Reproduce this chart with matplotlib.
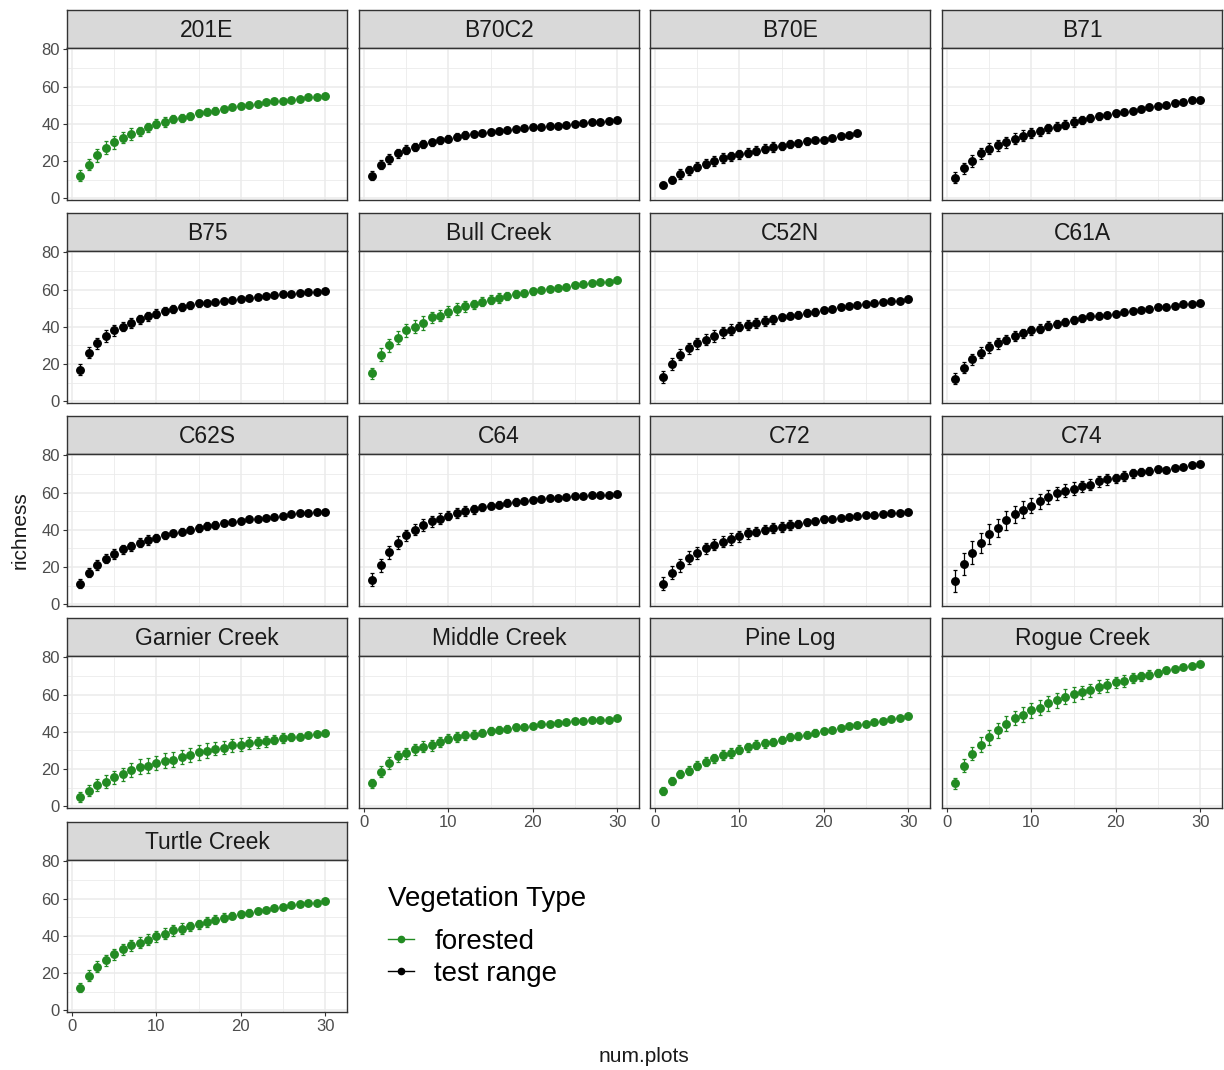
import matplotlib
matplotlib.use("Agg")
import matplotlib.pyplot as plt
from matplotlib.lines import Line2D
import numpy as np

plt.rcParams['font.family'] = ['Liberation Sans', 'DejaVu Sans']

# ---------------- data ----------------
sites = ["201E", "B70C2", "B70E", "B71", "B75", "Bull Creek", "C52N", "C61A",
         "C62S", "C64", "C72", "C74", "Garnier Creek", "Middle Creek", "Pine Log",
         "Rogue Creek", "Turtle Creek"]
veg_type = ["forested", "test range", "test range", "test range", "test range", "forested",
            "test range", "test range", "test range", "test range", "test range", "test range",
            "forested", "forested", "forested", "forested", "forested"]

rich_201E = [12, 18, 23, 27, 30, 32.5, 34.5, 36, 38, 40, 41, 42.5, 43, 44, 45.5, 46.5, 47, 48,
             49, 49.5, 50, 50.5, 51.5, 52, 52, 53, 53.5, 54.5, 54.5, 55]
rich_B70C2 = [12, 18, 21, 24, 26, 27.5, 29, 30, 31, 32, 33, 34, 34.5, 35, 35.5, 36, 36.5, 37,
              37.5, 38, 38.5, 39, 39, 39.5, 40, 40.5, 41, 41, 41.5, 42]
rich_B70E = [7, 10, 13, 15, 17, 18.5, 20, 21.5, 22.5, 23.5, 24.5, 25.5, 26.5, 27.5, 28, 29,
             29.5, 30.5, 31, 31.5, 32.5, 33.5, 34, 35]
rich_B71 = [11, 16, 20, 24, 26.5, 28.5, 30, 32, 33.5, 35, 36, 37.5, 38.5, 39.5, 41, 42, 43, 44,
            44.5, 45.5, 46.5, 47, 48, 49, 49.5, 50, 51, 51.5, 52.5, 53]
rich_B75 = [17, 26, 31, 35, 38, 40, 42, 44, 45.5, 47, 48.5, 49.5, 50.5, 51.5, 52.5, 53, 53.5,
            54, 54.5, 55, 55.5, 56, 56.5, 57, 57.5, 57.5, 58, 58.5, 58.5, 59]
rich_Bull = [15, 25, 30, 34, 38, 40, 42, 45, 46, 48, 49.5, 51, 52, 53.5, 54.5, 55.5, 56.5,
             57.5, 58, 59, 59.5, 60.5, 61, 61.5, 62.5, 63, 63.5, 64, 64, 65]
rich_C52N = [13, 20, 25, 28.5, 31, 33, 35, 37, 38.5, 40, 41, 42, 43, 44, 45, 46, 46.5, 47.5,
             48, 49, 49.5, 50.5, 51, 51.5, 52, 53, 53.5, 54, 54, 55]
rich_C61A = [12, 18, 22.5, 26, 29, 31, 33, 35, 36.5, 38, 39, 40.5, 41.5, 42.5, 43.5, 44.5,
             45.5, 46, 46.5, 47, 48, 48.5, 49, 49.5, 50.5, 50.5, 51, 52, 52, 53]
rich_C62S = [11, 17, 21, 24.5, 27, 29.5, 31, 33, 34.5, 35.5, 37, 38, 39, 40, 41, 42, 42.5,
             43.5, 44, 44.5, 45.5, 46, 46.5, 47, 47.5, 48.5, 49, 49, 49.5, 49.5]
rich_C64 = [13, 21, 28, 33, 37, 40, 42.5, 44.5, 46, 47.5, 49, 50, 51, 52, 53, 53.5, 54.5, 55,
            55.5, 56, 56.5, 57, 57, 57.5, 58, 58, 58.5, 58.5, 58.5, 59]
rich_C72 = [11, 17, 21, 25, 27.5, 30, 32, 33.5, 35, 36.5, 38, 39, 40, 41, 41.5, 42.5, 43, 44,
            44.5, 45.5, 46, 46.5, 47, 47.5, 48, 48, 48.5, 49, 49, 49.5]
rich_C74 = [12.6, 21.4, 27.7, 33, 37.8, 41, 45, 48.3, 50.8, 53, 55.3, 57.6, 59.5, 61, 62,
            63.4, 64.3, 66.1, 67, 67.6, 68.8, 70.3, 71, 71.5, 72.4, 72.3, 73.3, 73.9, 74.6, 75.5]
rich_Garnier = [4.9, 8.2, 11.4, 13, 15.4, 17.2, 19.4, 21.2, 21.7, 23.2, 24.3, 25, 26.4, 27.5,
                29, 29.9, 30.8, 31.5, 32.6, 33, 33.9, 34.4, 34.8, 35.7, 36.6, 37.1, 37.3, 38,
                38.6, 39.5]
rich_Middle = [12.2, 18.5, 23.2, 26.8, 28.4, 30.6, 32, 32.6, 34.4, 36.2, 37.1, 38, 38.4, 39.5,
               40.4, 41.1, 41.6, 42.3, 42.7, 43.3, 44, 44, 44.9, 45.1, 45.8, 45.8, 46.5, 46.5,
               46.5, 47.4]
rich_Pine = [8.1, 13.6, 17.2, 19, 21.7, 23.9, 25.7, 27.5, 28.6, 30.4, 31.7, 33, 33.7, 34.4,
             35.8, 37.1, 37.7, 38.4, 39.5, 40.2, 40.9, 42, 42.9, 43.4, 44.2, 45.3, 45.8, 46.7,
             47.4, 48.2]
rich_Rogue = [12.3, 21.7, 28.1, 33, 37.1, 40.7, 44.4, 47.4, 49.2, 51.6, 52.9, 55.2, 57, 58.9,
              60.1, 61.2, 62.4, 64.3, 65.1, 66.6, 67.3, 68.8, 69.7, 70.6, 71.5, 73, 73.8, 74.6,
              75.5, 76.4]
rich_Turtle = [12, 18.4, 23.3, 26.8, 30, 32.6, 34.9, 36.3, 37.9, 39.7, 41.1, 42.9, 43.8, 45.1,
               46.2, 47.4, 48.7, 49.7, 50.8, 51.5, 52.4, 53.3, 54, 54.7, 55.3, 56.4, 57.1, 57.8,
               57.8, 58.7]

# error half-widths
err_201E = [3, 3, 3.5, 3.5, 3.5, 3, 3, 2.5, 2.5, 2.5, 2.5, 2, 2, 2, 2, 2, 2, 1.5, 1.5, 1.5,
            1.5, 1.5, 1, 1, 1, 1, 1, 0.8, 0.6, 0.3]
err_B70C2 = [2.5, 2.5, 2.5, 2.5, 2.5, 2, 2, 2, 2, 2, 2, 2, 1.8, 1.8, 1.8, 1.5, 1.5, 1.5, 1.5,
             1.2, 1.2, 1.2, 1, 1, 1, 1, 0.8, 0.8, 0.5, 0.3]
err_B70E = [1.5, 2, 2.5, 2.5, 2.5, 2.5, 2.5, 2.5, 2.5, 2.5, 2.5, 2.5, 2.5, 2.5, 2, 2, 2, 2,
            1.5, 1.5, 1, 1, 0.8, 0.3]
err_B71 = [3, 3, 3, 3, 3, 3, 3, 3, 3, 2.5, 2.5, 2.5, 2.5, 2.5, 2.5, 2, 2, 2, 2, 2, 1.5, 1.5,
           1.5, 1.5, 1.2, 1, 1, 0.8, 0.6, 0.3]
err_B75 = [3, 3, 3, 3, 3, 2.5, 2.5, 2.5, 2.5, 2.5, 2, 2, 2, 2, 2, 1.5, 1.5, 1.5, 1.5, 1.5,
           1.2, 1.2, 1.2, 1, 1, 1, 0.8, 0.6, 0.5, 0.3]
err_Bull = [3, 3.5, 3.5, 3.5, 3.5, 3.5, 3.5, 3, 3, 3, 3, 3, 2.5, 2.5, 2.5, 2.5, 2, 2, 2, 2, 1.5,
            1.5, 1.5, 1.5, 1.2, 1, 1, 0.8, 0.6, 0.3]
err_C52N = [3, 3, 3, 3, 3, 3, 3, 3, 3, 2.5, 2.5, 2.5, 2.5, 2.5, 2, 2, 2, 2, 2, 1.5, 1.5, 1.5,
            1.2, 1.2, 1, 1, 1, 0.8, 0.6, 0.3]
err_C61A = [3, 3, 3, 3, 3, 3, 2.5, 2.5, 2.5, 2.5, 2.5, 2.5, 2, 2, 2, 2, 2, 2, 1.5, 1.5, 1.5,
            1.5, 1.2, 1.2, 1, 1, 1, 0.8, 0.6, 0.3]
err_C62S = [2.5, 2.5, 2.5, 2.5, 2.5, 2.5, 2.5, 2.5, 2.5, 2, 2, 2, 2, 2, 2, 2, 2, 1.5, 1.5, 1.5,
            1.5, 1.5, 1.2, 1.2, 1, 1, 1, 0.8, 0.6, 0.3]
err_C64 = [3.5, 3.5, 3.5, 3.5, 3, 3, 3, 3, 3, 2.5, 2.5, 2.5, 2.5, 2, 2, 2, 2, 2, 1.5, 1.5, 1.5,
           1.5, 1.2, 1.2, 1, 1, 0.8, 0.8, 0.6, 0.3]
err_C72 = [3.5, 3.5, 3.5, 3.5, 3, 3, 3, 3, 3, 3, 3, 2.5, 2.5, 2.5, 2.5, 2.5, 2, 2, 2, 2, 1.5,
           1.5, 1.5, 1.2, 1.2, 1, 1, 0.8, 0.6, 0.3]
err_C74 = [6, 6, 6, 5.5, 5.5, 5, 5, 4.5, 4.5, 4, 4, 4, 3.5, 3.5, 3.5, 3, 3, 3, 3, 2.5, 2.5,
           2.5, 2, 2, 2, 1.5, 1.2, 1, 0.8, 0.3]
err_Garnier = [2.5, 3, 3, 3.5, 3.5, 3.5, 4, 4, 4, 4, 4, 4, 4, 4, 4, 4, 3.5, 3.5, 3.5, 3.5, 3,
               3, 3, 2.5, 2.5, 2, 2, 1.5, 1, 0.5]
err_Middle = [2.5, 3, 3, 3, 3, 3, 3, 3, 2.5, 2.5, 2.5, 2.5, 2.5, 2, 2, 2, 2, 2, 1.5, 1.5, 1.5,
              1.2, 1.2, 1.2, 1, 1, 0.8, 0.6, 0.5, 0.3]
err_Pine = [2, 2, 2, 2.5, 2.5, 2.5, 2.5, 2.5, 2.5, 2.5, 2.5, 2.5, 2.5, 2, 2, 2, 2, 2, 2, 1.5,
            1.5, 1.5, 1.5, 1.2, 1.2, 1, 1, 0.8, 0.5, 0.3]
err_Rogue = [3, 3.5, 3.5, 4, 4, 4, 4, 4, 4, 4, 4, 4, 4, 4, 4, 3.5, 3.5, 3.5, 3.5, 3, 3, 2.5,
             2.5, 2.5, 2, 2, 1.5, 1.2, 0.8, 0.4]
err_Turtle = [2.5, 3, 3, 3, 3, 3, 3, 3, 3, 3, 3, 3, 3, 2.5, 2.5, 2.5, 2.5, 2.5, 2, 2, 2, 1.5,
              1.5, 1.5, 1.2, 1.2, 1, 0.8, 0.6, 0.3]

richness = [rich_201E, rich_B70C2, rich_B70E, rich_B71, rich_B75, rich_Bull, rich_C52N,
            rich_C61A, rich_C62S, rich_C64, rich_C72, rich_C74, rich_Garnier, rich_Middle,
            rich_Pine, rich_Rogue, rich_Turtle]
errors = [err_201E, err_B70C2, err_B70E, err_B71, err_B75, err_Bull, err_C52N, err_C61A,
          err_C62S, err_C64, err_C72, err_C74, err_Garnier, err_Middle, err_Pine, err_Rogue,
          err_Turtle]

x_ticks = [0, 10, 20, 30]
y_ticks = [0, 20, 40, 60, 80]
legend_labels = ["forested", "test range"]
colors = {"forested": "#228B22", "test range": "#000000"}

# ---------------- layout ----------------
W, H = 1224, 1070
fig = plt.figure(figsize=(W / 100, H / 100), dpi=100)

col_left = [67, 359, 650, 942]
panel_w = 280
row_strip_top = [10, 213, 416, 618, 822]
strip_h = 38
panel_h = 152

def fx(px):
    return px / W

def fy(py):
    return 1 - py / H

grid_col = "#EBEBEB"
border_col = "#333333"
tick_col = "#4D4D4D"

ncols = 4
nsites = len(sites)
for i, site in enumerate(sites):
    r, c = divmod(i, ncols)
    left = col_left[c]
    top = row_strip_top[r]
    # strip
    sax = fig.add_axes([fx(left), fy(top + strip_h), fx(panel_w), strip_h / H])
    sax.set_facecolor("#D9D9D9")
    sax.set_xticks([]); sax.set_yticks([])
    for s in sax.spines.values():
        s.set_color(border_col); s.set_linewidth(1.0)
    sax.text(0.5, 0.47, site, ha="center", va="center", fontsize=16.5, color="#1A1A1A",
             transform=sax.transAxes)
    # panel
    ax = fig.add_axes([fx(left), fy(top + strip_h + panel_h), fx(panel_w), panel_h / H])
    ax.set_xlim(-0.6, 32.6)
    ax.set_ylim(-1.0, 80.7)
    ax.set_xticks(x_ticks)
    ax.set_xticks([5, 15, 25], minor=True)
    ax.set_yticks(y_ticks)
    ax.set_yticks([10, 30, 50, 70], minor=True)
    ax.grid(which="major", color=grid_col, linewidth=1.1)
    ax.grid(which="minor", color=grid_col, linewidth=0.6)
    ax.set_axisbelow(True)
    for s in ax.spines.values():
        s.set_color(border_col); s.set_linewidth(1.0)
    ax.tick_params(which="minor", length=0)
    ax.tick_params(which="major", length=3, width=0.8, color=border_col,
                   labelsize=12, labelcolor=tick_col, pad=2)
    show_x = (i + ncols >= nsites)
    show_y = (c == 0)
    if not show_x:
        ax.tick_params(axis="x", which="major", length=0, labelbottom=False)
    if not show_y:
        ax.tick_params(axis="y", which="major", length=0, labelleft=False)

    vals = richness[i]
    xs = np.arange(1, len(vals) + 1)
    col = colors[veg_type[i]]
    ax.errorbar(xs, vals, yerr=errors[i], fmt="o", color=col, ecolor=col,
                markersize=5.4, elinewidth=0.9, capsize=1.1, capthick=0.9, zorder=3)

# axis titles
fig.text(fx(644), fy(1057), "num.plots", ha="center", va="center", fontsize=15, color="#1A1A1A")
fig.text(fx(20), fy(530), "richness", ha="center", va="center", fontsize=15, color="#1A1A1A",
         rotation=90)

# legend
handles = [Line2D([], [], color=colors[k], marker="o", markersize=4.5, linewidth=1.0)
           for k in legend_labels]
leg = fig.legend(handles, legend_labels, title="Vegetation Type",
                 loc="upper left", bbox_to_anchor=(fx(388), fy(886)), frameon=False,
                 fontsize=20, title_fontsize=20, handlelength=0.95, handletextpad=0.72,
                 labelspacing=0.22, borderpad=0, borderaxespad=0, alignment="left")
leg._legend_box.sep = 12
for t in leg.get_texts():
    t.set_color("#000000")

fig.savefig("out.png", dpi=100)
